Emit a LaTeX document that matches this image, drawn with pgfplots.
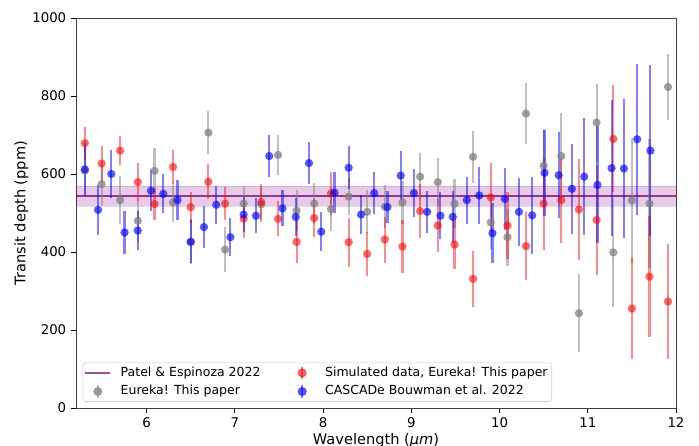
\documentclass[border=0pt]{standalone}
\usepackage{fontspec}
\setmainfont{DejaVu Sans}
\usepackage{pgfplots}
\usepackage{pgfplotstable}
\pgfplotsset{compat=1.18}
\definecolor{mpurple}{rgb}{0.5,0,0.5}
\definecolor{mgrey}{rgb}{0.5,0.5,0.5}

\pgfplotstableread{
x y e
5.30 608 60
5.49 574 55
5.70 533 62
5.90 480 55
6.09 608 58
6.30 527 50
6.50 426 58
6.70 706 55
6.89 406 57
7.10 524 45
7.30 522 45
7.49 649 52
7.70 506 52
7.90 524 52
8.09 510 55
8.29 542 48
8.50 503 55
8.70 516 55
8.90 527 55
9.10 593 62
9.30 579 62
9.49 524 62
9.70 644 67
9.90 476 68
10.09 438 73
10.30 755 78
10.50 621 95
10.70 646 110
10.90 243 100
11.10 732 100
11.29 399 140
11.50 532 160
11.70 524 165
11.91 823 85
}\greydata

\pgfplotstableread{
x y e
5.30 679 42
5.49 627 45
5.70 660 38
5.90 579 48
6.09 523 40
6.30 618 43
6.50 515 40
6.70 580 45
6.89 524 43
7.10 485 48
7.30 528 46
7.49 485 45
7.70 426 55
7.90 487 48
8.09 550 55
8.29 425 63
8.50 395 57
8.70 432 59
8.90 414 68
9.10 505 70
9.30 468 68
9.49 419 63
9.70 331 72
9.90 540 87
10.09 468 87
10.30 415 88
10.50 524 118
10.70 533 109
10.90 509 130
11.10 482 142
11.29 690 137
11.50 255 130
11.70 337 155
11.91 273 148
}\reddata

\pgfplotstableread{
x y e
5.30 612 68
5.45 508 64
5.60 600 62
5.75 450 54
5.90 455 51
6.05 557 53
6.19 549 50
6.35 533 51
6.50 426 55
6.65 464 54
6.79 521 48
6.95 438 48
7.10 496 46
7.24 493 45
7.39 646 54
7.54 512 46
7.69 490 48
7.84 628 54
7.98 452 50
8.13 552 53
8.29 616 55
8.43 496 49
8.58 551 53
8.73 515 41
8.88 596 63
9.03 551 62
9.18 503 54
9.33 493 60
9.47 490 66
9.63 533 60
9.77 545 73
9.92 448 77
10.06 536 80
10.22 503 88
10.37 494 98
10.51 603 110
10.67 597 110
10.82 562 115
10.96 593 150
11.11 572 150
11.27 615 175
11.41 614 178
11.56 689 193
11.71 660 220
}\bluedata

\begin{document}
\begin{tikzpicture}
\useasboundingbox (0,0) rectangle (503.28pt,321.12pt);
\begin{axis}[
  at={(54.72pt,27.36pt)}, anchor=south west,
  scale only axis, width=432pt, height=280.8pt,
  xmin=5.2, xmax=12, ymin=0, ymax=1000,
  xtick={6,7,8,9,10,11,12}, ytick={0,200,400,600,800,1000},
  tick align=outside, major tick length=3.5pt,
  xtick pos=lower, ytick pos=left,
  tick style={black, line width=0.6pt},
  axis line style={black!75, line width=0.6pt},
  /pgf/number format/assume math mode=true,
  /pgf/number format/1000 sep={},
  tick label style={font=\fontsize{9.6}{11}\selectfont},
  xlabel={Wavelength (\textit{μm})},
  ylabel={Transit depth (ppm)},
  label style={font=\fontsize{10.5}{12}\selectfont},
  xlabel style={yshift=3pt},
  ylabel style={yshift=-4pt},
  legend columns=2,
  legend cell align=left,
  legend style={at={(0.011,0.016)}, anchor=south west, draw=black!20, rounded corners=2pt,
    fill=white, fill opacity=0.8, text opacity=1, font=\fontsize{9}{11}\selectfont,
    inner xsep=1pt, inner ysep=0.5pt, row sep=0pt,
    nodes={inner ysep=2.2pt, text height=6.9pt, text depth=2.1pt},
    /tikz/every even column/.append style={column sep=19pt}},
]
% band
\addplot[fill=mpurple, fill opacity=0.2, draw=mpurple, draw opacity=0.15, forget plot]
  coordinates {(5,518) (13,518) (13,568) (5,568)} -- cycle;

% legend images
\addlegendimage{legend image code/.code={\path[draw=none] (0pt,0pt) -- (23.5pt,0pt); \draw[mpurple, opacity=0.7, line width=1.5pt] (0pt,0pt) -- (18pt,0pt);}}
\addlegendentry{Patel \& Espinoza 2022}
\addlegendimage{legend image code/.code={\path[draw=none] (0pt,0pt) -- (23.5pt,0pt); \draw[red, opacity=0.5, line width=1.5pt] (9pt,-4.5pt) -- (9pt,4.5pt); \fill[red, opacity=0.6] (9pt,0pt) circle (3pt);}}
\addlegendentry{Simulated data, Eureka! This paper}
\addlegendimage{legend image code/.code={\path[draw=none] (0pt,0pt) -- (23.5pt,0pt); \draw[mgrey, opacity=0.5, line width=1.5pt] (9pt,-4.5pt) -- (9pt,4.5pt); \fill[mgrey, opacity=0.75] (9pt,0pt) circle (3pt);}}
\addlegendentry{Eureka! This paper}
\addlegendimage{legend image code/.code={\path[draw=none] (0pt,0pt) -- (23.5pt,0pt); \draw[blue, opacity=0.5, line width=1.5pt] (9pt,-4.5pt) -- (9pt,4.5pt); \fill[blue, opacity=0.65] (9pt,0pt) circle (3pt);}}
\addlegendentry{CASCADe Bouwman et al. 2022}

% line
\addplot[mpurple, opacity=0.75, line width=1.5pt, forget plot] coordinates {(5,543) (13,543)};

% grey
\addplot[forget plot, color=mgrey, only marks, mark=*, mark size=3pt,
  mark options={solid, fill=mgrey, draw opacity=0, fill opacity=0.75},
  error bars/.cd, y dir=both, y explicit, error mark=none,
  error bar style={line width=1.5pt, mgrey, opacity=0.5}]
  table[x=x, y=y, y error=e] {\greydata};
% red
\addplot[forget plot, color=red, only marks, mark=*, mark size=3pt,
  mark options={solid, fill=red, draw opacity=0, fill opacity=0.6},
  error bars/.cd, y dir=both, y explicit, error mark=none,
  error bar style={line width=1.5pt, red, opacity=0.45}]
  table[x=x, y=y, y error=e] {\reddata};
% blue
\addplot[forget plot, color=blue, only marks, mark=*, mark size=3pt,
  mark options={solid, fill=blue, draw opacity=0, fill opacity=0.65},
  error bars/.cd, y dir=both, y explicit, error mark=none,
  error bar style={line width=1.5pt, blue, opacity=0.5}]
  table[x=x, y=y, y error=e] {\bluedata};
\end{axis}
\end{tikzpicture}
\end{document}
